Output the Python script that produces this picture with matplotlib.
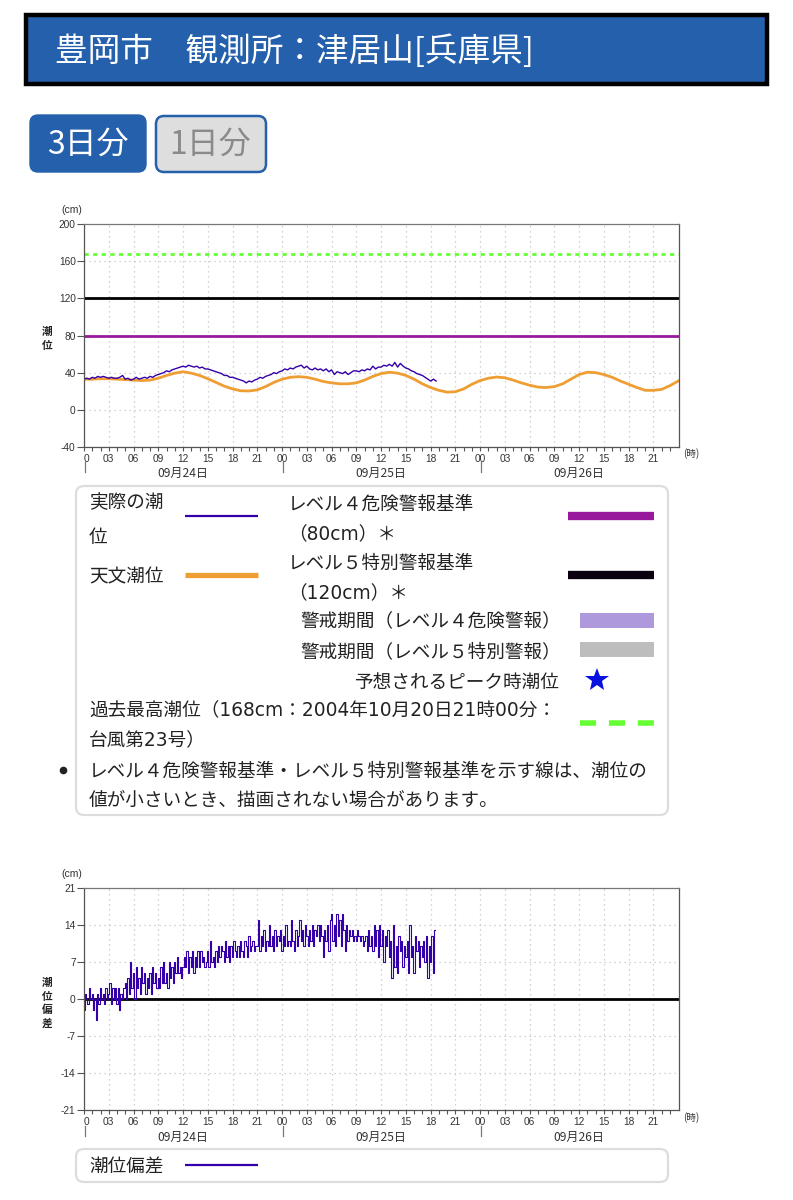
import numpy as np
import matplotlib
matplotlib.use("Agg")
import matplotlib.pyplot as plt
import matplotlib.transforms as mtrans
from matplotlib.patches import FancyBboxPatch, Rectangle

plt.rcParams['font.family'] = ['Noto Sans CJK JP', 'DejaVu Sans']

W, H = 793, 1200

# 天文潮位 (hourly, cm)
astro = [33, 33, 33.5, 33.5, 33, 32.5, 32, 31.5, 32, 34, 37, 39.5,
         41, 39.5, 37, 33.5, 29.5, 25.5, 22.5, 20.5, 20.3, 21.5, 25, 29.5,
         33, 35, 35.7, 35, 33, 30.5, 29, 28, 28, 29, 32, 36,
         39, 40.5, 39.5, 37, 33, 28, 24, 21, 19, 19.5, 22.5, 27.5,
         31.5, 34, 35.3, 34.5, 32, 29, 26.5, 24.5, 24, 25, 28, 33,
         38, 40.5, 40, 38, 35, 31, 27.5, 24, 21, 21, 22, 26, 31]

# 実際の潮位 (every 20 min, cm), one row per 3 hours
observed = [
    33, 34, 33, 35, 34, 36, 35, 36, 35,
    34, 35, 34, 34, 35, 37, 33, 34, 32,
    33, 35, 33, 34, 35, 34, 36, 35, 37,
    38, 39, 40, 42, 41, 43, 44, 45, 46,
    47, 46, 48, 47, 46, 47, 45, 46, 44,
    44, 43, 42, 41, 40, 39, 37, 37, 35,
    35, 34, 33, 32, 31, 29, 31, 30, 32,
    33, 35, 34, 36, 37, 38, 40, 39, 41,
    42, 44, 43, 45, 44, 46, 47, 48, 45,
    47, 44, 43, 45, 43, 44, 42, 44, 41,
    43, 38, 41, 40, 39, 41, 38, 40, 42,
    42, 41, 43, 42, 44, 43, 47, 44, 46,
    46, 48, 47, 49, 47, 51, 46, 50, 47,
    45, 44, 42, 41, 39, 38, 37, 35, 33,
    31, 33, 31,
]

# 潮位偏差 (every 10 min, cm), one row per 3 hours
deviation = [
    -2, 1, 0, -1, 2, 0, 1, -2, 0, -4, 1, -1, 2, 0, 1, -1, 2, 0,
    1, 3, -1, 2, 0, 2, -1, 2, -2, 1, 0, 2, 3, 0, 4, 1, 7, 2,
    5, 0, 6, 2, 4, 1, 6, 3, 5, 1, 4, 2, 5, 1, 6, 3, 5, 2,
    4, 2, 6, 3, 7, 3, 5, 2, 7, 4, 6, 3, 7, 5, 8, 5, 6, 4,
    6, 8, 6, 9, 5, 8, 6, 9, 5, 8, 6, 9, 6, 9, 7, 8, 6, 7,
    9, 6, 11, 7, 8, 6, 9, 7, 10, 8, 10, 9, 7, 11, 8, 10, 7, 10,
    8, 11, 9, 8, 10, 8, 11, 9, 8, 11, 10, 8, 12, 9, 10, 11, 9, 10,
    10, 15, 9, 12, 10, 13, 9, 11, 10, 14, 10, 12, 9, 13, 10, 12, 11, 13,
    9, 12, 10, 14, 10, 11, 10, 15, 11, 9, 13, 10, 12, 15, 11, 13, 10, 14,
    12, 10, 13, 11, 14, 10, 13, 12, 14, 11, 14, 12, 8, 13, 11, 14, 9, 15,
    16, 11, 14, 10, 16, 12, 15, 10, 16, 13, 9, 14, 11, 13, 12, 13, 11, 12,
    11, 13, 12, 11, 12, 10, 11, 12, 9, 13, 10, 12, 9, 14, 10, 13, 8, 14,
    10, 13, 7, 12, 10, 13, 8, 11, 4, 14, 6, 10, 5, 12, 9, 11, 6, 10,
    8, 11, 5, 14, 8, 10, 5, 12, 9, 11, 6, 10, 8, 11, 7, 12, 4, 10,
    7, 12, 5, 13,
]

obs_color = '#3300aa'
orange = '#ee9e33'
purple = '#99199c'
green = '#66ff33'
blue = '#2560ac'
legend_font = ['DejaVu Sans', 'Noto Sans CJK JP']


def make_axes(fig, left, top, right, bottom):
    return fig.add_axes([left / W, 1 - bottom / H, (right - left) / W, (bottom - top) / H])


def style_chart(ax, yticks):
    ax.set_xlim(0, 72.1)
    ax.set_ylim(yticks[0], yticks[-1])
    ax.set_yticks(yticks)
    ax.set_yticklabels([str(v) for v in yticks], family='Liberation Sans', fontsize=7.3, color='#333333')
    hours = np.arange(0, 72, 3)
    labels = ['%02d' % (h % 24) for h in hours]
    labels[0] = '0'
    ax.set_xticks(hours)
    ax.set_xticklabels(labels, family='Liberation Sans', fontsize=7.3, color='#333333')
    ax.set_xticks(np.arange(0, 72), minor=True)
    ax.tick_params(axis='x', which='both', length=3, width=0.8, color='#555555', pad=2)
    ax.tick_params(axis='y', length=5, width=0.8, color='#555555', pad=1)
    first = ax.get_xticklabels()[0]
    first.set_transform(first.get_transform() + mtrans.ScaledTranslation(2.5 / 100, 0, ax.figure.dpi_scale_trans))
    ax.grid(True, linestyle=(0, (1, 3)), color='#c4c4c4', linewidth=0.9)
    ax.set_axisbelow(True)
    for s in ax.spines.values():
        s.set_color('#555555')
        s.set_linewidth(0.9)
    ax.spines['top'].set_color('#777777')


fig = plt.figure(figsize=(W / 100, H / 100), dpi=100)

# page layer in pixel coordinates
page = fig.add_axes([0, 0, 1, 1])
page.set_xlim(0, W)
page.set_ylim(H, 0)
page.axis('off')

page.add_patch(Rectangle((26, 15), 741, 69, facecolor=blue, edgecolor='black', linewidth=3.2))
page.text(55, 51, '豊岡市　観測所：津居山[兵庫県]', fontsize=23.5, color='white', va='center')


def round_box(x0, y0, x1, y1, face, edge, lw, r=8):
    page.add_patch(FancyBboxPatch((x0 + r, y0 + r), x1 - x0 - 2 * r, y1 - y0 - 2 * r,
                                  boxstyle='round,pad=%d,rounding_size=%d' % (r, r),
                                  facecolor=face, edgecolor=edge, linewidth=lw))


round_box(30, 115, 146, 172, blue, blue, 1)
round_box(156, 116, 266, 172, '#dedede', blue, 1.8)
page.text(88, 145, '3日分', fontsize=23, color='white', ha='center', va='center')
page.text(210, 145, '1日分', fontsize=23, color='#8a8a8a', ha='center', va='center')

# legend 1
round_box(76, 486, 668, 815, 'white', '#dddddd', 1.6)
legend_texts = [
    (89, 503, '実際の潮'), (89, 537, '位'), (89, 577, '天文潮位'),
    (288, 504, 'レベル４危険警報基準'), (288, 535, '（80cm）＊'),
    (288, 563, 'レベル５特別警報基準'), (288, 594, '（120cm）＊'),
    (300, 622, '警戒期間（レベル４危険警報）'), (300, 652, '警戒期間（レベル５特別警報）'),
    (354, 682, '予想されるピーク時潮位'),
    (89, 711, '過去最高潮位（168cm：2004年10月20日21時00分：'), (89, 741, '台風第23号）'),
    (89, 771, 'レベル４危険警報基準・レベル５特別警報基準を示す線は、潮位の'),
    (89, 801, '値が小さいとき、描画されない場合があります。'),
]
for x, y, s in legend_texts:
    page.text(x, y, s, family=legend_font, fontsize=13.4, color='#222222', va='center')

page.plot([185, 258], [516, 516], color=obs_color, lw=1.6, solid_capstyle='butt')
page.plot([185, 258], [575, 575], color=orange, lw=3.8, solid_capstyle='butt')
page.plot([568, 654], [516, 516], color=purple, lw=6, solid_capstyle='butt')
page.plot([568, 654], [575, 575], color='#0a0010', lw=6, solid_capstyle='butt')
page.add_patch(Rectangle((580, 613), 74, 15, facecolor='#af99dd', edgecolor='none'))
page.add_patch(Rectangle((580, 642), 74, 15, facecolor='#bdbdbd', edgecolor='none'))
page.plot([597], [680], marker='*', color='#0a10e0', markersize=18, markeredgewidth=0)
page.plot([580, 654], [723, 723], color=green, lw=4, linestyle=(0, (2.9, 2.3)), dash_capstyle='butt')
page.plot([63], [770], marker='o', color='#222222', markersize=5.5, markeredgewidth=0)

# legend 2
round_box(76, 1149, 668, 1182, 'white', '#dddddd', 1.6)
page.text(89, 1167, '潮位偏差', family=legend_font, fontsize=13.4, color='#222222', va='center')
page.plot([185, 258], [1165, 1165], color=obs_color, lw=1.6, solid_capstyle='butt')

# annotations round the two charts
for top in (210, 874):
    page.text(72, top, '(cm)', family='Liberation Sans', fontsize=7.5, color='#333333', ha='center', va='center')
for base in (454, 1118):
    page.text(691, base, '(時)', fontsize=7, color='#333333', ha='center', va='center')
for base in (473, 1137):
    for x, s in zip((183, 381, 579), ('09月24日', '09月25日', '09月26日')):
        page.text(x, base, s, fontsize=8.7, color='#333333', ha='center', va='center')
    for x in (84.5, 282.5, 480.5):
        page.plot([x, x], [base - 11, base - 1], color='#777777', lw=0.9)
page.text(47, 332, '潮', fontsize=7.7, fontweight='bold', ha='center', va='center', color='#222222')
page.text(47, 346, '位', fontsize=7.7, fontweight='bold', ha='center', va='center', color='#222222')
for y, s in zip((983, 997, 1010, 1024), '潮位偏差'):
    page.text(47, y, s, fontsize=7.7, fontweight='bold', ha='center', va='center', color='#222222')

# chart 1: 潮位
ax1 = make_axes(fig, 84, 224, 679, 447)
style_chart(ax1, [-40, 0, 40, 80, 120, 160, 200])
ax1.axhline(168, color=green, lw=2, linestyle=(0, (1.5, 1.6)), dash_capstyle='butt')
ax1.axhline(120, color='black', lw=2)
ax1.axhline(80, color=purple, lw=2)
ax1.plot(np.arange(len(astro)), astro, color=orange, lw=2)
ax1.plot(np.arange(len(observed)) / 3, observed, color=obs_color, lw=1)

# chart 2: 潮位偏差
ax2 = make_axes(fig, 84, 888, 679, 1110)
style_chart(ax2, [-21, -14, -7, 0, 7, 14, 21])
ax2.axhline(0, color='black', lw=2)
ax2.plot(np.arange(len(deviation)) / 6, deviation, color=obs_color, lw=0.8, drawstyle='steps-mid')

fig.savefig('out.png', dpi=100)
